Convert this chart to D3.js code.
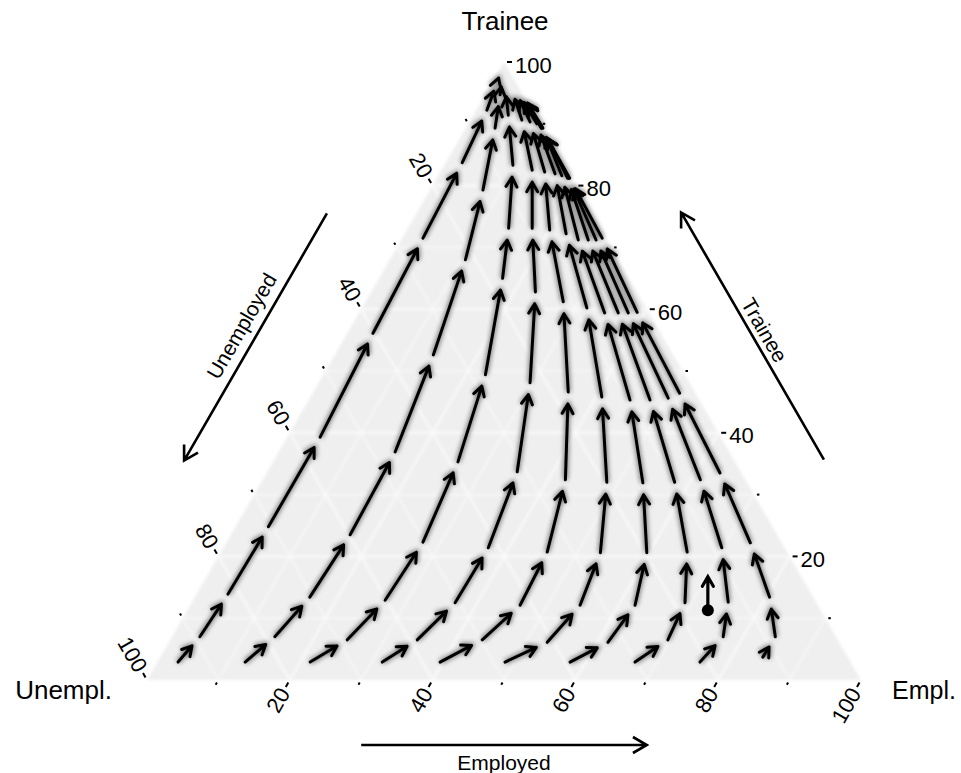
<!DOCTYPE html>
<html>
<head>
<meta charset="utf-8">
<script src="https://cdn.jsdelivr.net/npm/d3@7"></script>
<style>
  body { margin: 0; background: #fff; }
  text { font-family: 'Liberation Sans', Arial, Helvetica, sans-serif; fill: #000; }
</style>
</head>
<body>
<svg id="chart" width="961" height="773"></svg>
<script>
// Trajectories, one array per starting point: [Trainee %, Employed %] (Unemployed = rest)
const chain01 = [[2.9, 2.9], [7.0, 3.9], [13.9, 4.4], [24.8, 4.6], [39.3, 4.6], [56.1, 3.6], [71.5, 2.9], [83.7, 2.3], [92.2, 1.5], [97.1, 0.6], [99.0, 0.2]];
const chain02 = [[2.9, 12.3], [7.0, 14.4], [13.4, 16.1], [23.5, 16.7], [36.9, 16.3], [52.6, 13.8], [68.0, 10.6], [79.3, 7.4], [89.3, 4.1], [94.7, 2.1], [97.9, 0.9]];
const chain03 = [[2.9, 21.4], [6.5, 24.8], [12.9, 26.9], [22.3, 27.5], [35.3, 25.9], [49.4, 22.7], [65.0, 17.3], [73.1, 14.1], [83.3, 9.6], [91.4, 4.9], [96.3, 2.0]];
const chain04 = [[2.9, 31.5], [6.5, 34.6], [12.5, 36.9], [21.4, 37.1], [33.7, 35.0], [48.1, 29.6], [62.8, 23.0], [73.1, 17.4], [82.5, 12.7], [90.6, 7.2], [95.8, 3.1]];
const chain05 = [[2.9, 39.6], [6.5, 43.7], [12.1, 46.2], [20.7, 45.7], [32.4, 42.4], [46.6, 35.7], [61.2, 27.7], [72.8, 20.0], [82.2, 14.6], [90.3, 8.5], [95.5, 3.8]];
const chain06 = [[2.9, 48.7], [6.1, 53.0], [12.1, 54.6], [20.6, 53.2], [32.0, 48.4], [45.8, 40.8], [60.2, 31.5], [72.2, 22.6], [81.9, 16.2], [90.0, 9.6], [95.1, 4.4]];
const chain07 = [[2.9, 57.8], [6.1, 61.5], [12.1, 62.3], [20.6, 59.7], [31.9, 53.5], [45.3, 45.0], [59.4, 34.4], [71.2, 24.8], [81.6, 17.3], [89.6, 10.5], [95.0, 4.9]];
const chain08 = [[2.9, 66.9], [6.5, 69.7], [12.5, 69.1], [20.7, 65.3], [32.0, 57.9], [45.3, 47.8], [59.4, 36.3], [71.2, 26.2], [81.2, 18.3], [89.3, 10.8], [94.8, 5.0]];
const chain09 = [[2.9, 76.0], [7.0, 77.2], [12.6, 75.1], [21.4, 69.8], [32.4, 61.3], [45.6, 50.2], [59.4, 37.7], [71.2, 27.3], [81.2, 18.5], [89.3, 10.6], [94.7, 5.2]];
const chain10 = [[3.7, 84.4], [7.0, 84.5], [13.4, 80.5], [22.2, 73.4], [33.5, 63.5], [46.4, 51.4], [59.5, 38.9], [71.5, 28.0], [81.2, 18.6], [89.3, 10.6], [94.7, 5.2]];

// highlighted observation and its next step
const markerFrom = [11.3, 72.9];
const markerTo = [16.7, 70.2];

const majorTicks = [20, 40, 60, 80, 100];
const minorTicks = [10, 30, 50, 70, 90];
const gridLevels = [10, 20, 30, 40, 50, 60, 70, 80, 90];

const chains = [chain01, chain02, chain03, chain04, chain05, chain06, chain07, chain08, chain09, chain10];

const svg = d3.select('#chart');

// ternary -> screen: horizontal position from (Employed + Trainee/2), vertical from Trainee
const xScale = d3.scaleLinear().domain([0, 100]).range([147, 861]);
const yScale = d3.scaleLinear().domain([0, 100]).range([680, 62]);
const proj = (t, r) => [xScale(r + t / 2), yScale(t)];

const defs = svg.append('defs');
defs.append('filter').attr('id', 'soft')
    .attr('x', '-5%').attr('y', '-5%').attr('width', '110%').attr('height', '110%')
    .append('feGaussianBlur').attr('stdDeviation', 1.8);
defs.append('filter').attr('id', 'halo')
    .attr('x', '-20%').attr('y', '-20%').attr('width', '140%').attr('height', '140%')
    .append('feGaussianBlur').attr('stdDeviation', 2.6);

// panel
const vL = proj(0, 0), vT = proj(100, 0), vR = proj(0, 100);
svg.append('path')
    .attr('d', d3.line()([vL, vT, vR]) + 'Z')
    .attr('fill', '#efefef')
    .attr('filter', 'url(#soft)');

// grid
const gridG = svg.append('g').attr('filter', 'url(#soft)').attr('opacity', 0.75);
gridLevels.forEach(v => {
    const major = v % 20 === 0;
    const segs = [
        [proj(v, 0), proj(v, 100 - v)],          // Trainee constant
        [proj(0, v), proj(100 - v, v)],          // Employed constant
        [proj(0, 100 - v), proj(100 - v, 0)]     // Unemployed constant
    ];
    segs.forEach(s => {
        gridG.append('line')
            .attr('x1', s[0][0]).attr('y1', s[0][1])
            .attr('x2', s[1][0]).attr('y2', s[1][1])
            .attr('stroke', '#ffffff')
            .attr('stroke-width', major ? 2 : 1.2);
    });
});

// ticks and tick labels
const c60 = Math.cos(Math.PI / 3), s60 = Math.sin(Math.PI / 3);
const axes = [
    { edge: v => proj(v, 100 - v), dir: [1, 0], rot: 0, anchor: 'start' },        // Trainee (right)
    { edge: v => proj(100 - v, 0), dir: [-c60, -s60], rot: 60, anchor: 'end' },    // Unemployed (left)
    { edge: v => proj(0, v), dir: [-c60, s60], rot: -60, anchor: 'end' }          // Employed (bottom)
];
const tickG = svg.append('g');
axes.forEach(ax => {
    majorTicks.forEach(v => {
        const e = ax.edge(v);
        tickG.append('line')
            .attr('x1', e[0] + ax.dir[0] * 3).attr('y1', e[1] + ax.dir[1] * 3)
            .attr('x2', e[0] + ax.dir[0] * 8).attr('y2', e[1] + ax.dir[1] * 8)
            .attr('stroke', '#000').attr('stroke-width', 2);
        const lx = e[0] + ax.dir[0] * 11, ly = e[1] + ax.dir[1] * 11 + (ax.rot === 0 ? 3 : 0);
        tickG.append('text')
            .attr('transform', `translate(${lx},${ly}) rotate(${ax.rot})`)
            .attr('text-anchor', ax.anchor)
            .attr('dominant-baseline', 'central')
            .style('font-size', '22px')
            .text(v);
    });
    minorTicks.forEach(v => {
        const e = ax.edge(v);
        tickG.append('line')
            .attr('x1', e[0] + ax.dir[0] * 3).attr('y1', e[1] + ax.dir[1] * 3)
            .attr('x2', e[0] + ax.dir[0] * 5.5).attr('y2', e[1] + ax.dir[1] * 5.5)
            .attr('stroke', '#000').attr('stroke-width', 2);
    });
});

// arrow geometry
function arrowPath(a, b, gap, head) {
    const dx = b[0] - a[0], dy = b[1] - a[1];
    const len = Math.hypot(dx, dy) || 1;
    const ux = dx / len, uy = dy / len;
    const L = Math.max(len - gap, 2);
    const ex = a[0] + ux * L, ey = a[1] + uy * L;
    const c = Math.cos(Math.PI / 6), s = Math.sin(Math.PI / 6);
    const h1 = [ex - head * (ux * c - uy * s), ey - head * (uy * c + ux * s)];
    const h2 = [ex - head * (ux * c + uy * s), ey - head * (uy * c - ux * s)];
    return `M${a[0]},${a[1]}L${ex},${ey}M${h1[0]},${h1[1]}L${ex},${ey}L${h2[0]},${h2[1]}`;
}

const steps = [];
chains.forEach(ch => {
    for (let k = 0; k < ch.length - 1; k++) {
        steps.push({ from: proj(ch[k][0], ch[k][1]), to: proj(ch[k + 1][0], ch[k + 1][1]) });
    }
});

// soft halo under the arrows, then the arrows
svg.append('g').attr('filter', 'url(#halo)').attr('opacity', 0.55)
    .selectAll('path').data(steps).enter().append('path')
    .attr('d', d => arrowPath(d.from, d.to, 12, 11))
    .attr('fill', 'none').attr('stroke', '#000').attr('stroke-width', 4.5);

svg.append('g')
    .selectAll('path').data(steps).enter().append('path')
    .attr('d', d => arrowPath(d.from, d.to, 12, 11))
    .attr('fill', 'none').attr('stroke', '#000')
    .attr('stroke-width', 3).attr('stroke-linecap', 'round').attr('stroke-linejoin', 'round');

// highlighted point
const mA = proj(markerFrom[0], markerFrom[1]), mB = proj(markerTo[0], markerTo[1]);
svg.append('path')
    .attr('d', arrowPath(mA, mB, 0, 11))
    .attr('fill', 'none').attr('stroke', '#000').attr('stroke-width', 3.2)
    .attr('stroke-linecap', 'round');
svg.append('circle').attr('cx', mA[0]).attr('cy', mA[1]).attr('r', 6).attr('fill', '#000');

// corner titles
svg.append('text').attr('x', vT[0] + 1).attr('y', 21)
    .attr('text-anchor', 'middle').attr('dominant-baseline', 'central')
    .style('font-size', '26px').text('Trainee');
svg.append('text').attr('x', 112).attr('y', 690)
    .attr('text-anchor', 'end').attr('dominant-baseline', 'central')
    .style('font-size', '26px').text('Unempl.');
svg.append('text').attr('x', 892).attr('y', 690)
    .attr('text-anchor', 'start').attr('dominant-baseline', 'central')
    .style('font-size', '25px').text('Empl.');

// direction arrows beside each side
const dirArrows = [
    { a: proj(0, 30), b: proj(0, 70), off: [0, 65], lab: 'Employed', rot: 0, lOff: [0, 17] },
    { a: proj(30, 70), b: proj(70, 30), off: [70, -35], lab: 'Trainee', rot: 60, lOff: [12, -6] },
    { a: proj(70, 0), b: proj(30, 0), off: [-70, -34], lab: 'Unemployed', rot: -60, lOff: [-14, -11] }
];
dirArrows.forEach(d => {
    const a = [d.a[0] + d.off[0], d.a[1] + d.off[1]];
    const b = [d.b[0] + d.off[0], d.b[1] + d.off[1]];
    svg.append('path')
        .attr('d', arrowPath(a, b, 0, 16))
        .attr('fill', 'none').attr('stroke', '#000').attr('stroke-width', 2.6);
    const mx = (a[0] + b[0]) / 2 + d.lOff[0], my = (a[1] + b[1]) / 2 + d.lOff[1];
    svg.append('text')
        .attr('transform', `translate(${mx},${my}) rotate(${d.rot})`)
        .attr('text-anchor', 'middle').attr('dominant-baseline', 'central')
        .style('font-size', '21px').text(d.lab);
});
</script>
</body>
</html>
